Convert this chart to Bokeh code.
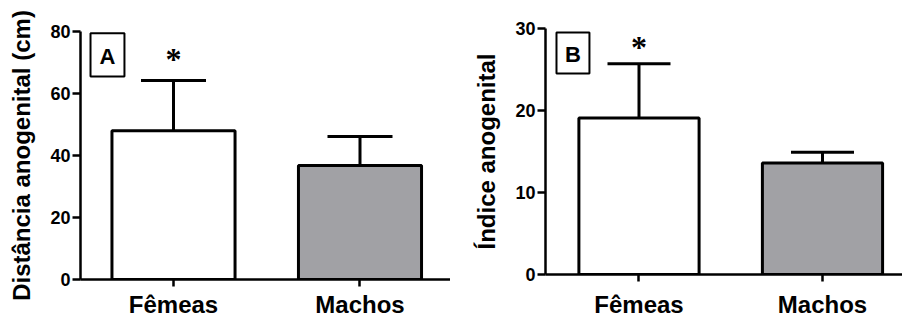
from bokeh.plotting import figure
from bokeh.models import (Range1d, FixedTicker, Whisker, TeeHead, BoxAnnotation,
                          Label, ColumnDataSource)
from bokeh.layouts import row
from bokeh.embed import file_html
from bokeh.resources import INLINE

# ---- data ----
categories = ["Fêmeas", "Machos"]
agd_mean = [48.0, 36.8]      # Distância anogenital (cm)
agd_err = [16.2, 9.3]
agi_mean = [19.1, 13.6]      # Índice anogenital
agi_err = [6.6, 1.3]
yticks_a = [0, 20, 40, 60, 80]
yticks_b = [0, 10, 20, 30]
bar_colors = ["#ffffff", "#a1a1a5"]

FONT = "Liberation Sans"
H = 320


def panel(means, errs, yticks, ylabel, letter, width, border_left, border_top,
          border_bottom, xr, bar_w, cap_px, star_y, letter_pos, box, x_standoff):
    p = figure(width=width, height=H, output_backend="svg", toolbar_location=None,
               x_range=Range1d(*xr), y_range=Range1d(yticks[0], yticks[-1]),
               min_border_left=border_left, min_border_right=0,
               min_border_top=border_top, min_border_bottom=border_bottom,
               frame_align=False)
    p.outline_line_color = None
    p.grid.visible = False
    p.background_fill_color = "white"
    p.border_fill_color = "white"

    xs = list(range(len(categories)))
    upper = [m + e for m, e in zip(means, errs)]
    src = ColumnDataSource(dict(x=xs, top=means, color=bar_colors,
                                upper=upper, lower=means))

    wh = Whisker(base="x", upper="upper", lower="lower", source=src,
                 line_width=3, line_color="black",
                 upper_head=TeeHead(size=cap_px, line_width=3, line_color="black"),
                 lower_head=None, level="underlay")
    p.add_layout(wh)
    p.vbar(x="x", top="top", bottom=0, width=bar_w, source=src,
           fill_color="color", line_color="black", line_width=3)

    # significance asterisk
    p.text(x=[xs[0]], y=[star_y], text=["*"], text_align="center",
           text_baseline="alphabetic", text_font_size="32px",
           text_font_style="bold", text_color="black", text_font=FONT)

    # panel letter in a box
    p.add_layout(BoxAnnotation(left=box[0], right=box[1], bottom=box[2], top=box[3],
                               fill_color="white", fill_alpha=1.0,
                               line_color="black", line_alpha=1.0, line_width=2))
    p.add_layout(Label(x=letter_pos[0], y=letter_pos[1], text=letter,
                       text_align="center", text_baseline="alphabetic",
                       text_font=FONT, text_font_size="22px",
                       text_font_style="bold", text_color="black"))

    # axes
    xa = p.xaxis[0]
    xa.ticker = FixedTicker(ticks=xs)
    xa.major_label_overrides = {i: c for i, c in enumerate(categories)}
    xa.minor_tick_line_color = None
    ya = p.yaxis[0]
    ya.ticker = FixedTicker(ticks=yticks)
    ya.minor_tick_line_color = None
    ya.axis_label = ylabel
    for ax in (xa, ya):
        ax.axis_line_width = 2.5
        ax.axis_line_color = "black"
        ax.major_tick_line_width = 2.5
        ax.major_tick_line_color = "black"
        ax.major_tick_in = 0
        ax.major_label_text_font = FONT
        ax.major_label_text_font_style = "bold"
        ax.major_label_text_color = "black"
    xa.major_tick_out = 7
    xa.major_label_text_font_size = "24px"
    xa.major_label_standoff = x_standoff
    ya.major_tick_out = 8
    ya.major_label_text_font_size = "18px"
    ya.major_label_standoff = 2
    ya.axis_label_text_font = FONT
    ya.axis_label_text_font_style = "bold"
    ya.axis_label_text_font_size = "24px"
    ya.axis_label_text_color = "black"
    ya.axis_label_standoff = 12
    return p


pA = panel(agd_mean, agd_err, yticks_a, "Distância anogenital (cm)", "A",
           width=450, border_left=80, border_top=31, border_bottom=41,
           xr=(-0.4987, 1.4853), bar_w=0.66, cap_px=65, star_y=71.2,
           letter_pos=(-0.354, 72.0), box=(-0.445, -0.263, 65.5, 79.4),
           x_standoff=4)
pB = panel(agi_mean, agi_err, yticks_b, "Índice anogenital", "B",
           width=452, border_left=95, border_top=28, border_bottom=46,
           xr=(-0.5095, 1.436), bar_w=0.655, cap_px=63, star_y=27.8,
           letter_pos=(-0.360, 26.8), box=(-0.4496, -0.270, 24.5, 29.5),
           x_standoff=9)

layout = row(pA, pB)
open("out.html", "w").write(file_html(layout, INLINE))
